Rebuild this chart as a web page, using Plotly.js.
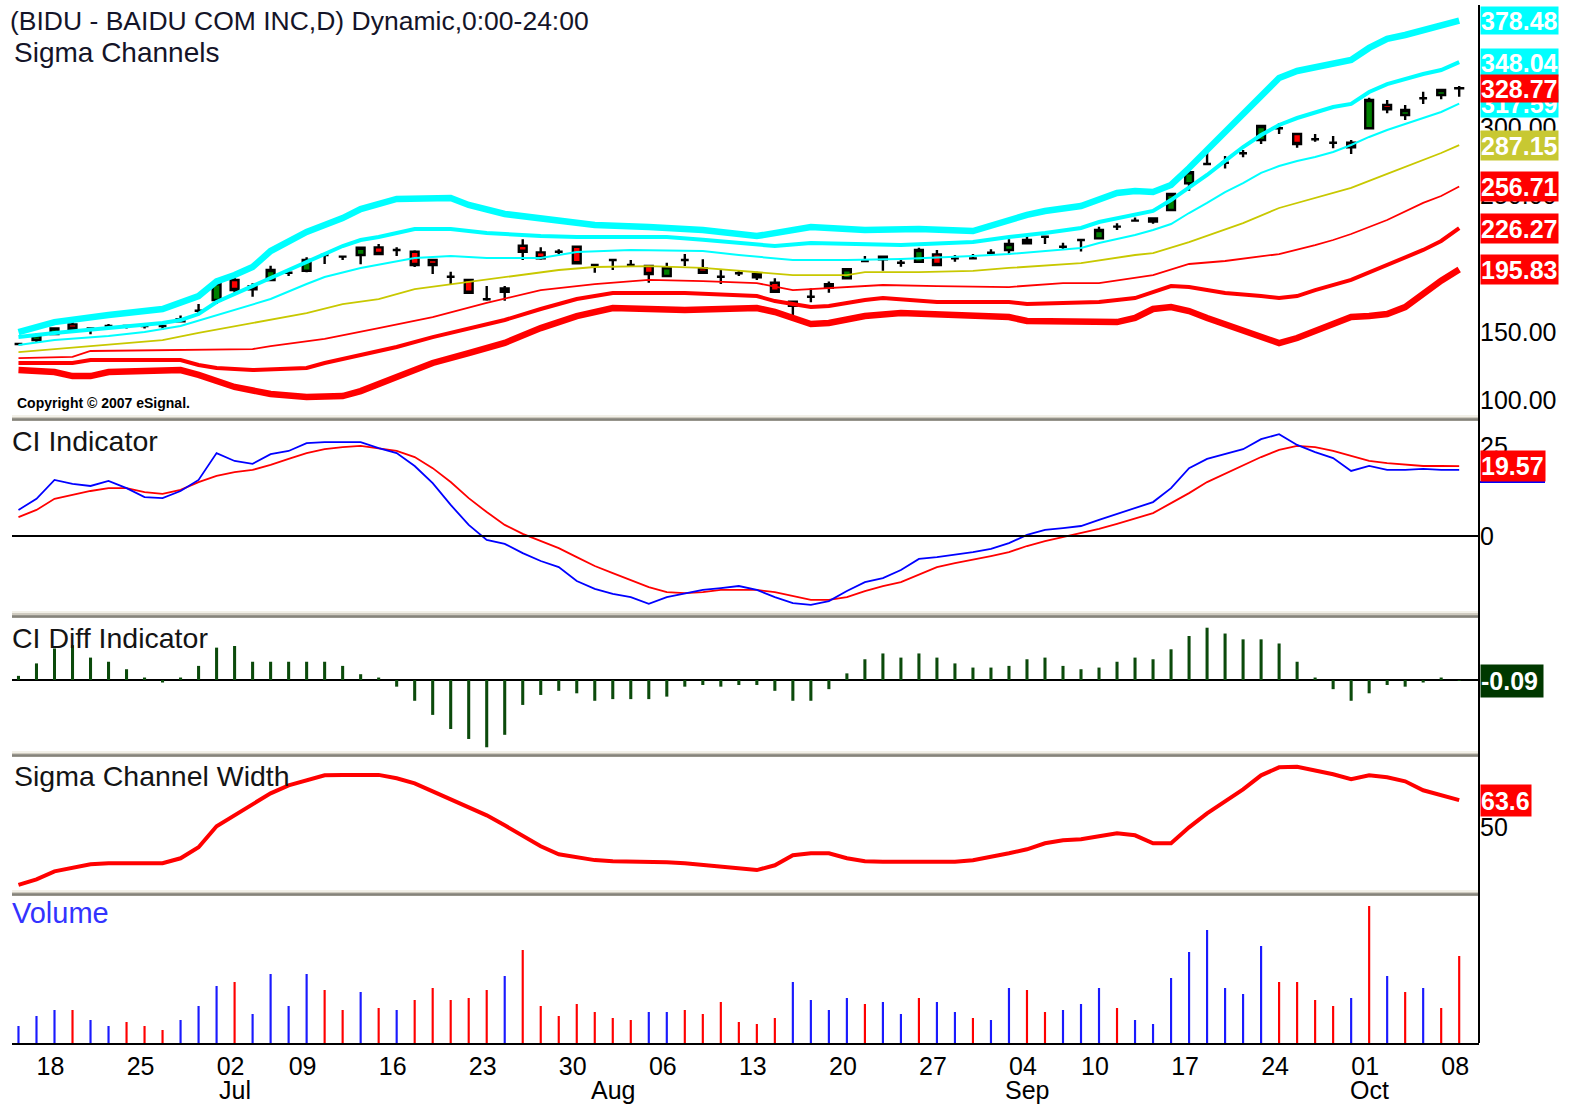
<!DOCTYPE html>
<html><head><meta charset="utf-8">
<script src="https://cdn.plot.ly/plotly-3.0.1.min.js"></script>
<style>html,body{margin:0;padding:0;background:#fff}#chart{width:1573px;height:1108px}</style>
</head><body><div id="chart"></div>
<script>
// ---------------- DATA ----------------
const dates = ["2007-06-14","2007-06-15","2007-06-18","2007-06-19","2007-06-20","2007-06-21","2007-06-22","2007-06-25","2007-06-26","2007-06-27","2007-06-28","2007-06-29",
"2007-07-02","2007-07-03","2007-07-05","2007-07-06","2007-07-09","2007-07-10","2007-07-11","2007-07-12","2007-07-13","2007-07-16","2007-07-17","2007-07-18","2007-07-19","2007-07-20","2007-07-23","2007-07-24","2007-07-25","2007-07-26","2007-07-27","2007-07-30","2007-07-31",
"2007-08-01","2007-08-02","2007-08-03","2007-08-06","2007-08-07","2007-08-08","2007-08-09","2007-08-10","2007-08-13","2007-08-14","2007-08-15","2007-08-16","2007-08-17","2007-08-20","2007-08-21","2007-08-22","2007-08-23","2007-08-24","2007-08-27","2007-08-28","2007-08-29","2007-08-30","2007-08-31",
"2007-09-04","2007-09-05","2007-09-06","2007-09-07","2007-09-10","2007-09-11","2007-09-12","2007-09-13","2007-09-14","2007-09-17","2007-09-18","2007-09-19","2007-09-20","2007-09-21","2007-09-24","2007-09-25","2007-09-26","2007-09-27","2007-09-28",
"2007-10-01","2007-10-02","2007-10-03","2007-10-04","2007-10-05","2007-10-08"];

const open  = [141.2,144.1,148.5,155.6,152.7,154.4,154.4,154.4,154.4,157.9,165.6,173.5,188.2,181.3,188.2,193.5,195.0,206.5,205.3,206.5,212.1,210.2,208.9,202.8,190.6,188.2,174.0,179.6,213.3,208.4,208.9,212.6,199.2,202.8,199.2,198.4,191.1,202.8,196.7,190.6,193.1,192.6,186.2,172.2,175.9,182.5,189.4,202.1,205.3,200.8,201.6,207.0,204.0,204.0,208.2,210.2,215.1,219.9,212.6,217.5,218.7,227.3,231.7,231.0,239.5,259.1,273.3,274.2,281.1,290.9,299.5,295.3,291.4,288.9,288.9,299.5,316.5,309.2,321.5,323.9,328.9];
const high  = [141.5,149.0,153.0,157.5,153.0,155.9,155.0,155.9,154.8,162.2,170.5,186.0,193.0,185.7,198.6,195.5,204.8,206.8,205.5,212.0,214.6,212.1,210.0,203.0,194.2,188.5,183.7,183.7,218.0,212.1,210.7,213.5,199.5,203.0,202.8,198.6,200.8,207.2,203.3,196.0,195.0,194.3,189.4,172.5,182.0,187.0,197.0,205.8,205.5,204.3,211.8,210.2,206.5,207.2,210.7,218.0,220.4,220.2,215.5,217.8,227.3,229.8,234.1,233.6,251.5,267.5,282.3,279.1,283.5,301.3,303.1,295.5,295.3,293.8,290.9,321.9,320.2,316.5,326.3,327.8,330.5];
const low   = [141.0,142.0,148.0,151.0,148.3,152.5,152.5,152.5,151.8,157.3,163.2,170.5,178.8,175.9,188.0,191.1,193.8,199.9,202.8,199.7,207.0,205.8,197.7,192.6,185.2,178.5,173.0,173.0,202.8,203.0,207.2,200.0,193.5,195.5,199.0,186.2,190.6,198.4,193.3,185.2,191.1,188.2,179.4,160.0,171.8,178.8,189.0,201.9,195.0,197.9,201.0,198.6,201.6,203.8,205.8,206.5,214.6,214.6,210.2,209.0,218.0,224.8,231.5,229.4,239.0,253.7,273.0,270.0,278.2,288.0,295.3,285.2,289.6,284.8,280.6,299.0,310.5,305.5,317.3,320.7,322.6];
const close = [141.2,147.6,152.7,152.4,152.7,154.4,154.4,154.4,154.4,159.5,165.6,185.7,180.8,183.7,195.5,193.5,202.8,206.5,205.3,211.8,207.2,210.2,199.2,199.2,190.6,178.8,174.0,182.0,208.9,204.0,208.9,200.4,199.2,202.8,199.2,192.6,197.5,202.8,193.5,190.6,193.1,190.1,179.6,169.3,175.9,185.0,196.0,202.1,203.3,200.8,210.2,199.2,204.0,204.0,208.2,214.6,217.5,219.9,212.6,217.5,224.8,227.3,231.7,233.4,251.3,267.2,273.3,274.2,281.1,301.1,299.5,287.9,291.4,288.9,285.5,320.2,313.4,312.9,321.5,327.6,328.77];

// Sigma channel bands: bar index of each reading and its value
const up3Idx = [0,2,5,8,10,11,12,13,14,16,17,18,19,20,21,24,25,27,30,32,35,38,41,42,44,47,50,53,55,56,57,59,61,62,63,64,65,66,67,68,69,70,71,72,73,74,75,76,77,78,79,80];
const up3Val = [150.0,157.3,162.5,166.9,176.4,187.2,191.8,197.7,209.4,223.4,228.5,233.6,240.2,243.9,247.6,248.3,243.2,236.6,231.4,228.5,227.0,224.8,220.4,222.6,227.0,224.8,225.6,224.1,232.2,235.9,238.8,242.4,252.0,253.5,252.7,257.9,270.3,283.5,297.5,310.7,323.9,336.4,341.5,344.4,347.4,349.6,358.4,365.0,367.9,371.5,374.5,378.48];
const up2Idx = [0,2,5,8,9,10,11,12,14,16,18,19,20,22,24,26,29,31,36,38,40,42,44,46,49,53,55,57,59,60,62,63,64,65,66,67,68,69,70,71,72,73,74,75,76,77,78,79,80];
const up2Val = [146.3,149.3,152.9,156.6,158.8,163.2,172.0,177.9,189.6,201.4,213.1,217.5,219.7,225.6,225.6,222.6,220.4,219.7,219.7,217.7,215.3,213.1,215.3,214.6,213.8,216.0,219.7,222.6,226.3,230.7,236.6,238.8,246.8,255.7,265.2,275.5,285.7,294.5,301.9,307.0,310.7,315.1,317.3,326.1,331.9,335.6,339.3,342.2,348.04];
const up1Idx = [0,2,5,7,9,11,12,14,16,17,19,22,24,26,29,31,34,38,40,43,46,49,53,55,59,60,62,63,64,65,66,67,68,69,70,71,72,73,74,75,76,77,78,79,80];
const up1Val = [140.5,144.1,147.1,150.0,154.4,162.5,166.1,174.2,185.2,190.4,197.0,204.3,205.8,204.3,204.3,208.7,210.2,209.4,206.5,202.8,202.8,203.6,205.8,207.2,211.6,215.3,221.2,224.8,229.2,237.3,244.7,252.7,259.3,266.7,271.8,275.5,278.4,282.1,287.2,293.1,298.2,302.6,307.0,311.4,317.59];
const midIdx = [0,2,5,8,10,13,16,18,20,22,25,27,30,32,35,38,40,43,46,47,50,53,55,59,62,63,65,68,70,73,74,76,78,79,80];
const midVal = [135.3,137.5,140.5,144.1,149.3,156.6,163.9,170.5,174.2,181.5,186.7,190.4,195.5,197.7,198.4,197.0,194.8,191.8,191.8,194.0,194.0,194.8,197.0,200.6,206.5,207.9,216.0,229.9,241.0,252.0,255.7,266.0,276.2,281.3,287.15];
const lo1Idx = [0,3,4,8,13,14,17,20,23,26,29,32,35,38,41,43,45,48,51,55,58,60,63,65,67,70,72,73,74,76,78,79,80];
const lo1Val = [130.9,131.7,136.1,136.8,137.5,139.7,144.9,152.9,161.0,171.3,180.8,185.2,188.2,187.4,185.9,180.8,182.3,184.5,183.7,183.0,185.9,185.9,191.8,199.9,202.1,207.2,213.8,217.5,221.9,232.2,244.7,249.8,256.71];
const lo2Idx = [0,3,4,9,10,11,13,16,17,18,19,21,23,25,27,29,31,33,37,41,42,44,45,47,48,51,55,56,60,62,64,65,67,69,70,71,72,74,76,78,79,80];
const lo2Val = [127.3,127.3,129.5,129.5,125.8,123.6,122.1,123.6,127.3,130.2,133.1,139.0,146.3,152.2,158.8,166.9,174.2,178.6,178.6,176.4,172.7,168.3,169.1,173.5,174.9,172.0,172.0,170.5,172.0,174.9,183.7,183.0,178.6,176.4,174.9,176.4,180.8,188.2,199.2,210.2,216.8,226.27];
const lo3Idx = [0,2,3,4,5,9,10,12,14,16,18,19,21,23,25,27,29,31,33,37,41,42,44,45,47,49,52,55,56,61,62,63,64,65,66,68,70,71,73,74,75,76,77,78,79,80];
const lo3Val = [122.1,120.7,117.7,117.7,120.7,122.1,118.5,109.7,104.5,102.3,103.0,106.7,117.0,127.3,134.6,142.0,152.9,161.7,167.6,166.1,167.6,164.7,155.9,156.6,161.7,164.0,162.5,161.0,158.1,157.3,160.3,166.9,168.3,165.4,160.3,151.5,141.9,145.6,156.6,161.0,161.7,163.2,168.3,178.6,187.7,195.83];

// CI indicator (blue) and its signal (red)
const ciLine = [7.3,10.4,15.7,14.6,14.0,15.4,13.4,10.9,10.6,12.6,15.7,23.2,21.0,20.2,22.9,23.8,26.0,26.3,26.3,26.3,24.6,23.2,19.6,14.8,8.7,3.1,-1.1,-2.2,-4.8,-7.0,-8.7,-12.6,-14.8,-16.2,-17.1,-19.0,-17.1,-16.0,-15.1,-14.6,-14.0,-15.1,-17.1,-18.8,-19.3,-18.2,-15.4,-12.9,-11.8,-9.5,-6.4,-5.9,-5.3,-4.5,-3.6,-2.0,0.3,1.7,2.2,2.8,4.5,6.2,7.8,9.5,13.4,19.0,21.6,22.9,24.3,27.1,28.5,25.5,23.5,21.8,18.2,19.6,18.5,18.5,18.8,18.5,18.5];
const ciSignal = [5.3,7.3,10.4,11.5,12.6,13.4,13.4,12.3,11.8,12.9,15.1,16.8,17.9,18.5,19.9,21.6,23.2,24.3,24.9,25.2,24.6,23.8,22.1,19.0,15.1,10.6,6.7,3.1,0.6,-1.4,-3.4,-5.9,-8.4,-10.4,-12.3,-14.3,-15.7,-16.0,-15.7,-15.1,-15.1,-15.1,-15.7,-16.8,-17.9,-17.9,-17.1,-15.4,-14.0,-12.9,-10.9,-8.7,-7.6,-6.7,-5.6,-4.5,-2.8,-1.4,-0.3,0.8,2.0,3.4,4.8,6.4,9.2,12.0,15.1,17.4,19.9,22.1,24.1,25.2,24.9,23.8,22.4,21.0,20.4,19.9,19.6,19.6,19.57];
// CI Diff histogram
const ciDiff = [0.5,2.0,3.8,4.2,2.7,2.2,1.3,0.3,-0.3,0.3,1.7,3.9,4.1,2.2,2.2,2.2,2.2,2.2,1.7,0.7,0.3,-0.8,-2.5,-4.2,-5.9,-7.1,-8.1,-6.6,-3.0,-1.8,-1.3,-1.6,-2.5,-2.3,-2.3,-2.3,-2.0,-0.8,-0.6,-0.8,-0.6,-0.6,-1.3,-2.5,-2.5,-1.1,0.8,2.5,3.2,2.7,3.2,2.7,2.0,1.5,1.5,1.7,2.5,2.7,1.7,1.3,1.5,2.2,2.7,2.5,3.7,5.3,6.3,5.6,4.9,4.9,4.4,2.2,0.3,-1.1,-2.5,-1.6,-0.6,-0.8,-0.3,0.3,-0.09];
// Sigma channel width
const chanWidth = [21.2,24,28,30,31.5,32,32,32,32,34.5,40,50.5,56,61,67,71,73.6,76,76.2,76.2,76.2,74.5,72,68,64,60,56,51,46,40.5,36.5,35,33.6,33,33,32.8,32.5,32,31.2,30.5,29.5,28.6,31,36,37,37,34.5,33,32.8,32.8,32.8,32.8,32.8,33.5,35,37,39,42,43.5,44,45.5,47,46,42,42,50,57,63,69,76,80,80.3,78.5,76.5,74,76,75,73,68.5,66,63.6];
// Volume (thousands of shares) and direction (u = up/blue, d = down/red)
const volume = [1700,2700,3300,3300,2300,1700,2100,1700,1300,2300,3700,5700,6100,2900,6900,3700,6900,5300,3300,5100,3500,3300,4300,5500,4300,4500,5300,6700,9300,3700,2700,3900,3100,2500,2300,3100,3100,3300,2900,4100,2100,1900,2500,6100,4300,3300,4500,3900,4100,2900,4500,4100,3100,2500,2300,5500,5300,3100,3300,3900,5500,3500,2300,1900,6500,9100,11300,5500,4900,9700,6100,6100,4300,3700,4500,13700,6700,5100,5500,3500,8700];
const volDir = "uuuduuddduuuduuuuddududdddduddddddduudddddduuuuduuduuduudduuuduuuuuuuuddddudududd".split("");

// Axis labels
const priceTicks   = [100,150,250,300];
const mondayTicks  = ["2007-06-18","2007-06-25","2007-07-02","2007-07-09","2007-07-16","2007-07-23","2007-07-30","2007-08-06","2007-08-13","2007-08-20","2007-08-27","2007-09-04","2007-09-10","2007-09-17","2007-09-24","2007-10-01","2007-10-08"];
const mondayLabels = ["18","25","02","09","16","23","30","06","13","20","27","04","10","17","24","01","08"];
const monthStarts  = ["2007-07-02","2007-08-01","2007-09-04","2007-10-01"];
const monthLabels  = ["Jul","Aug","Sep","Oct"];

// ---------------- LAYOUT HELPERS (pixel -> paper) ----------------
const PT = 5, PB = 1043, PL = 12, PR = 1479;
const fy = py => (PB - py) / (PB - PT);
const fx = px => (px - PL) / (PR - PL);
const NUM = "'Liberation Sans',Arial,sans-serif";
const SANS = "'Liberation Sans',Arial,sans-serif";

const dx = idx => idx.map(i => dates[i]);
function band(idx, val, color, width) {
  return {type:'scatter', mode:'lines', x:dx(idx), y:val, xaxis:'x', yaxis:'y',
          line:{color:color, width:width}, hoverinfo:'skip'};
}

const traces = [
  band(lo3Idx, lo3Val, '#ff0000', 6.5),
  band(lo2Idx, lo2Val, '#ff0000', 4),
  band(lo1Idx, lo1Val, '#ff0000', 1.8),
  band(midIdx, midVal, '#c8c800', 1.8),
  band(up1Idx, up1Val, '#00ffff', 2),
  band(up2Idx, up2Val, '#00ffff', 4),
  band(up3Idx, up3Val, '#00ffff', 6.5),
  {type:'candlestick', x:dates, open:open, high:high, low:low, close:close, xaxis:'x', yaxis:'y',
   increasing:{line:{color:'#000000', width:2.4}, fillcolor:'#008000'},
   decreasing:{line:{color:'#000000', width:2.4}, fillcolor:'#ff0000'},
   whiskerwidth:0, hoverinfo:'skip'},
  {type:'scatter', mode:'lines', x:dates, y:ciSignal, xaxis:'x', yaxis:'y2', line:{color:'#ff0000', width:1.8}, hoverinfo:'skip'},
  {type:'scatter', mode:'lines', x:dates, y:ciLine, xaxis:'x', yaxis:'y2', line:{color:'#0000ff', width:1.8}, hoverinfo:'skip'},
  {type:'bar', x:dates, y:ciDiff, xaxis:'x', yaxis:'y3', width:0.17, marker:{color:'#0b4a0b'}, hoverinfo:'skip'},
  {type:'scatter', mode:'lines', x:dates, y:chanWidth, xaxis:'x', yaxis:'y4', line:{color:'#ff0000', width:4}, hoverinfo:'skip'},
  {type:'bar', x:dates.filter((d,i)=>volDir[i]==='u'), y:volume.filter((v,i)=>volDir[i]==='u'), xaxis:'x', yaxis:'y5', width:0.12, marker:{color:'#1a1aff'}, hoverinfo:'skip'},
  {type:'bar', x:dates.filter((d,i)=>volDir[i]==='d'), y:volume.filter((v,i)=>volDir[i]==='d'), xaxis:'x', yaxis:'y5', width:0.12, marker:{color:'#ff0000'}, hoverinfo:'skip'}
];

const yBase = {side:'right', anchor:'x', showgrid:false, zeroline:false, showline:false, ticks:'',
               tickfont:{family:NUM, size:25, color:'#000'}, fixedrange:true};
const layout = {
  width:1573, height:1108,
  margin:{l:PL, r:1573-PR, t:PT, b:1108-PB, pad:0},
  paper_bgcolor:'#ffffff', plot_bgcolor:'#ffffff',
  showlegend:false, hovermode:false, barmode:'overlay', boxgap:0.38,
  xaxis:{type:'category', categoryorder:'array', categoryarray:dates, anchor:'y5', range:[-0.36, 81.1],
         rangeslider:{visible:false},
         showgrid:false, zeroline:false, showline:true, linecolor:'#000', linewidth:2, ticks:'',
         tickvals:mondayTicks, ticktext:mondayLabels, tickangle:0, ticklabelshift:-4,
         tickfont:{family:NUM, size:25, color:'#000'}},
  yaxis: Object.assign({}, yBase, {domain:[fy(416), 1], range:[88.4, 389.9], tickvals:priceTicks, tickformat:'.2f'}),
  yaxis2:Object.assign({}, yBase, {domain:[fy(612), fy(421)], range:[-21.27, 32.19], tickvals:[0,25]}),
  yaxis3:Object.assign({}, yBase, {domain:[fy(752), fy(618)], range:[-8.67, 7.47], showticklabels:false}),
  yaxis4:Object.assign({}, yBase, {domain:[fy(891), fy(757)], range:[18.15, 85.15], tickvals:[50]}),
  yaxis5:Object.assign({}, yBase, {domain:[0, fy(896)], range:[0, 14700], showticklabels:false}),
  shapes:[], annotations:[]
};

// separators between panes (raised 3-D bar look)
[[415,421],[611,618],[751,757],[890,896]].forEach(([a,b]) => {
  layout.shapes.push({type:'rect', xref:'paper', yref:'paper', x0:0, x1:1, y0:fy(b), y1:fy(a), fillcolor:'#cfcbc0', line:{width:0}, layer:'above'});
  layout.shapes.push({type:'line', xref:'paper', yref:'paper', x0:0, x1:1, y0:fy(a+1), y1:fy(a+1), line:{color:'#f2f0e8', width:2}, layer:'above'});
  layout.shapes.push({type:'line', xref:'paper', yref:'paper', x0:0, x1:1, y0:fy(b-1.5), y1:fy(b-1.5), line:{color:'#85837b', width:2.5}, layer:'above'});
});
// zero lines
layout.shapes.push({type:'line', xref:'paper', yref:'y2', x0:0, x1:1, y0:0, y1:0, line:{color:'#000', width:2}});
layout.shapes.push({type:'line', xref:'paper', yref:'y3', x0:0, x1:1, y0:0, y1:0, line:{color:'#000', width:2}, layer:'below'});
// right axis line
layout.shapes.push({type:'line', xref:'paper', yref:'paper', x0:1, x1:1, y0:0, y1:1, line:{color:'#000', width:2}, layer:'above'});

// text labels
function txt(text, px, py, size, color, extra) {
  layout.annotations.push(Object.assign({text:text, xref:'paper', yref:'paper', x:fx(px), y:fy(py),
    xanchor:'left', yanchor:'middle', showarrow:false, font:{family:SANS, size:size, color:color}}, extra||{}));
}
txt('(BIDU - BAIDU COM INC,D) Dynamic,0:00-24:00', 8, 21, 26.5, '#141428');
txt('Sigma Channels', 12, 53, 28, '#141428');
txt('Copyright \u00a9 2007 eSignal.', 15, 403, 14, '#000', {font:{family:SANS, size:14, color:'#000', weight:'bold'}});
txt('CI Indicator', 10, 441, 28.5, '#141414');
txt('CI Diff Indicator', 10, 638, 28.5, '#141414');
txt('Sigma Channel Width', 12, 776, 28.5, '#141414');
txt('Volume', 10, 913, 29, '#3333ff');
monthStarts.forEach((d, k) => {
  layout.annotations.push({text:monthLabels[k], xref:'x', yref:'paper', x:dates.indexOf(d), y:fy(1090),
    xanchor:'center', yanchor:'middle', showarrow:false, font:{family:NUM, size:25, color:'#000'}});
});

// value boxes on the right
function valBox(text, yref, yv, bg, w, h) {
  layout.annotations.push({text:text, xref:'paper', yref:yref, x:1, y:yv, xanchor:'left', yanchor:'middle',
    xshift:1, showarrow:false, bgcolor:bg, borderpad:0, width:w, height:h, align:'left',
    font:{family:NUM, size:25, color:'#ffffff', weight:'bold'}});
}
const last = a => a[a.length-1];
valBox(last(up3Val).toFixed(2), 'y', last(up3Val), '#00ffff', 77, 27);
valBox(last(up2Val).toFixed(2), 'y', last(up2Val), '#00ffff', 77, 27);
valBox(last(up1Val).toFixed(2), 'y', last(up1Val), '#00ffff', 77, 27);
valBox(last(close).toFixed(2), 'y', last(close), '#ff0000', 77, 27);
valBox(last(midVal).toFixed(2), 'y', last(midVal), '#c8c832', 77, 29);
valBox(last(lo1Val).toFixed(2), 'y', last(lo1Val), '#ff0000', 77, 29);
valBox(last(lo2Val).toFixed(2), 'y', last(lo2Val), '#ff0000', 77, 29);
valBox(last(lo3Val).toFixed(2), 'y', last(lo3Val), '#ff0000', 77, 29);
valBox(last(ciSignal).toFixed(2), 'y2', last(ciSignal), '#ff0000', 64, 30);
layout.shapes.push({type:'line', xref:'paper', yref:'paper', x0:fx(1480), x1:fx(1545), y0:fy(482), y1:fy(482), line:{color:'#0000ff', width:2}});
valBox(last(ciDiff).toFixed(2), 'y3', last(ciDiff), '#003800', 62, 32);
valBox(last(chanWidth).toFixed(1), 'y4', last(chanWidth), '#ff0000', 50, 31);

Plotly.newPlot('chart', traces, layout, {displayModeBar:false, staticPlot:true});
</script></body></html>
